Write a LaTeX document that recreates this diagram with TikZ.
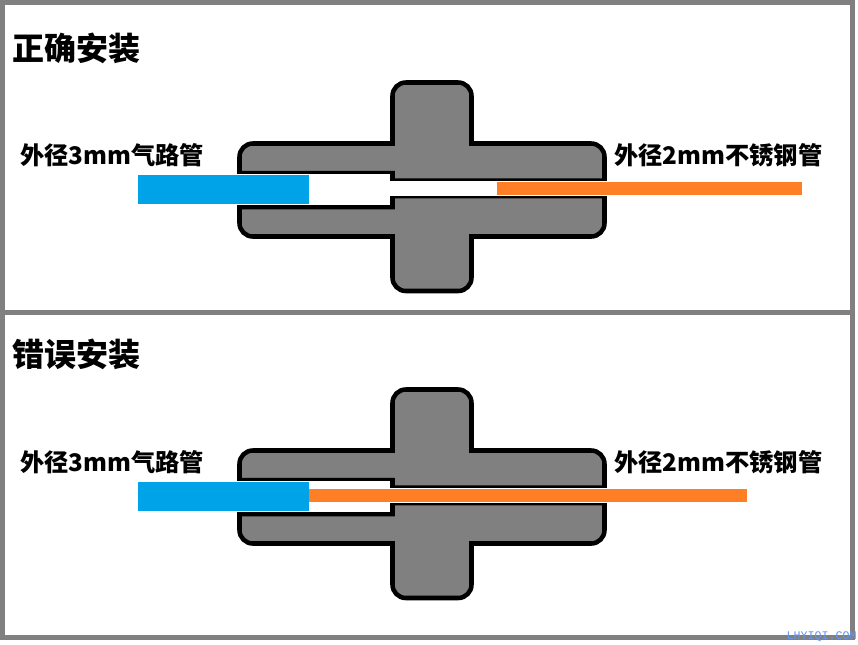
\documentclass[tikz,border=0pt]{standalone}
\usepackage{fontspec}
\newfontfamily\cjk{Noto Sans CJK SC}
\newfontfamily\wmfont{Liberation Mono}
\definecolor{framegray}{HTML}{808080}
\definecolor{tubeblue}{HTML}{00A2E8}
\definecolor{tubeorange}{HTML}{FF7F27}
\definecolor{markblue}{HTML}{6495ED}
\tikzset{
    framestyle/.style={draw=framegray, line width=3.75pt},
    bodystyle/.style={draw=black, fill=framegray, line width=3.4pt, line join=miter},
    titlestyle/.style={anchor=west, inner sep=0pt, font=\cjk\bfseries\fontsize{24pt}{24pt}\selectfont},
    labelstyle/.style={anchor=west, inner sep=0pt, font=\cjk\bfseries\fontsize{18.2pt}{18.2pt}\selectfont},
}
% one fitting, both halves, with its bore cut out
\newcommand{\fittingbody}{
    \draw[bodystyle] (239.5,173.25) [rounded corners=10pt] -- (239.5,143.5) [sharp corners] -- (392.5,143.5)
        [rounded corners=10pt] -- (392.5,82.5) -- (471.5,82.5) [sharp corners] -- (471.5,143.5)
        [rounded corners=10pt] -- (604.5,143.5) [sharp corners] -- (604.5,180.55) -- (392.5,180.55) -- (392.5,173.25) -- cycle;
    \draw[bodystyle] (239.5,207) [rounded corners=10pt] -- (239.5,236.5) [sharp corners] -- (392.5,236.5)
        [rounded corners=10pt] -- (392.5,291) -- (471.5,291) [sharp corners] -- (471.5,236.5)
        [rounded corners=10pt] -- (604.5,236.5) [sharp corners] -- (604.5,196.05) -- (392.5,196.05) -- (392.5,207) -- cycle;
    \fill[white] (234,174) rectangle (390,205);
    \fill[white] (234,181) rectangle (610,196);
}
\begin{document}
\begin{tikzpicture}[x=0.75pt, y=-0.75pt]
    \useasboundingbox (0,0) rectangle (858,644);
    \fill[white] (0,0) rectangle (858,644);
    \draw[framestyle] (2.5,2.5) rectangle (852.5,637.5);
    \draw[framestyle] (0,312.5) -- (855,312.5);
    % correct fitting
    \node[titlestyle] (titleok) at (12,48) {正确安装};
    \node[labelstyle] (airok) at (20,155) {外径3mm气路管};
    \node[labelstyle] (steelok) at (614,155) {外径2mm不锈钢管};
    \fittingbody
    \fill[tubeorange] (497,182) rectangle (802,195);
    \fill[tubeblue] (138,175) rectangle (309,204);
    % wrong fitting
    \node[titlestyle] (titlebad) at (12,354) {错误安装};
    \node[labelstyle] (airbad) at (20,462) {外径3mm气路管};
    \node[labelstyle] (steelbad) at (614,462) {外径2mm不锈钢管};
    \begin{scope}[yshift=-230.25pt]
        \fittingbody
        \fill[tubeorange] (309,182) rectangle (747,195);
        \fill[tubeblue] (138,175) rectangle (309,204);
    \end{scope}
    \node[anchor=east, inner sep=0pt, text=markblue, font=\wmfont\fontsize{8.75pt}{8.75pt}\selectfont] (mark) at (857,637) {LHYIQI.COM};
\end{tikzpicture}
\end{document}
